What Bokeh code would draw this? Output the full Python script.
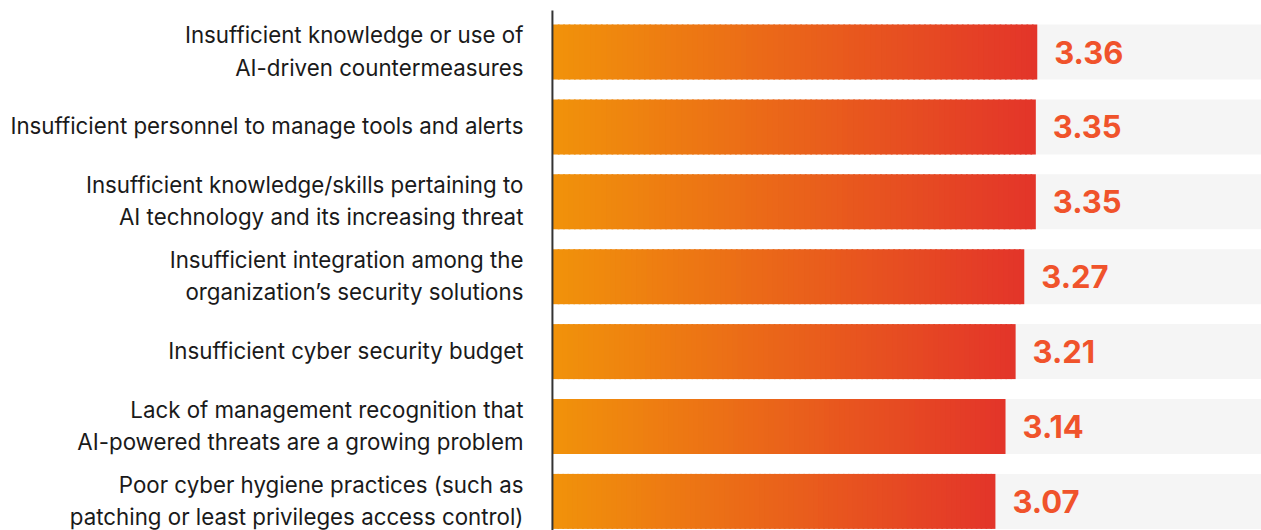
from bokeh.plotting import figure
from bokeh.models import Range1d, ColumnDataSource
from bokeh.core.properties import value
from bokeh.embed import file_html
from bokeh.resources import INLINE

categories = [
    "Insufficient knowledge or use of\nAI-driven countermeasures",
    "Insufficient personnel to manage tools and alerts",
    "Insufficient knowledge/skills pertaining to\nAI technology and its increasing threat",
    "Insufficient integration among the\norganization\u2019s security solutions",
    "Insufficient cyber security budget",
    "Lack of management recognition that\nAI-powered threats are a growing problem",
    "Poor cyber hygiene practices (such as\npatching or least privileges access control)",
]
values = [3.36, 3.35, 3.35, 3.27, 3.21, 3.14, 3.07]
value_labels = ["3.36", "3.35", "3.35", "3.27", "3.21", "3.14", "3.07"]
scale_max = 5

start_rgb = (241, 147, 10)
end_rgb = (227, 52, 42)
N = 90

p = figure(width=1261, height=530, output_backend="svg", toolbar_location=None,
           x_range=Range1d(-3.825, 4.914), y_range=Range1d(6.3885, -0.6876),
           min_border=0, outline_line_color=None)
p.axis.visible = False
p.grid.visible = False
p.background_fill_color = "white"
p.border_fill_color = "white"

ys = list(range(len(values)))
h = 0.734

# background track
p.hbar(y=ys, left=0, right=scale_max, height=h, fill_color="#f5f5f5", line_color=None)

# gradient bars built from slices
L, R, Y, C = [], [], [], []
for i, v in enumerate(values):
    for k in range(N):
        t = (k + 0.5) / N
        col = tuple(int(round(start_rgb[j] + (end_rgb[j] - start_rgb[j]) * t)) for j in range(3))
        L.append(v * k / N)
        R.append(v * (k + 1) / N + (0.012 if k < N - 1 else 0))
        Y.append(i)
        C.append("#%02x%02x%02x" % col)
p.hbar(y=Y, left=L, right=R, height=h, fill_color=C, line_color=None)

# axis line
p.segment(x0=[0], x1=[0], y0=[-0.554], y1=[6.6], line_color="#333333", line_width=2)

src = ColumnDataSource(dict(y=ys, v=values, lab=value_labels, cat=categories, z=[0] * len(values)))
p.text(x="v", y="y", text="lab", source=src, x_offset=17, text_align="left", text_baseline="middle",
       text_font=value("Inter"), text_font_style="bold", text_font_size="31px", text_color="#f0532b")
p.text(x="z", y="y", text="cat", source=src, x_offset=-29, y_offset=-1, text_align="right", text_baseline="middle",
       text_font=value("Inter"), text_font_size="22.3px", text_color="#1a1a1a", text_line_height=1.19)

open("out.html", "w").write(file_html(p, INLINE))
